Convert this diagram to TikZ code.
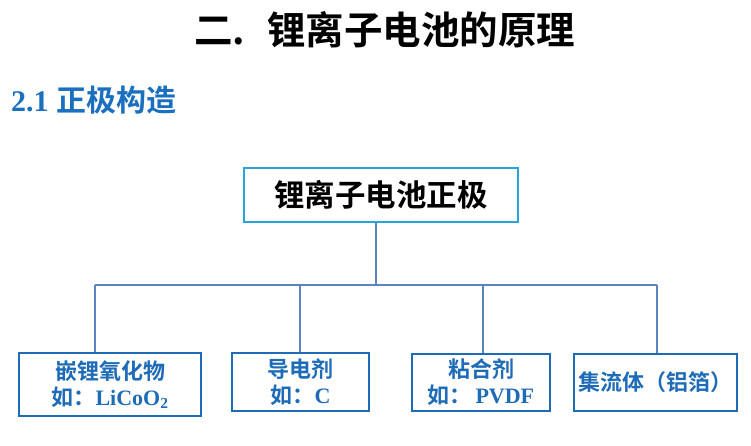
\documentclass[tikz,border=0pt]{standalone}
\usepackage{fontspec}
\setmainfont{Liberation Serif}
\newfontfamily\cjk{Noto Sans CJK SC}[BoldFont={Noto Sans CJK SC Bold}]
\definecolor{titleblue}{HTML}{1A6FBF}
\definecolor{boxblue}{HTML}{1E6CB8}
\definecolor{topborder}{HTML}{2AA3DC}
\definecolor{linkblue}{HTML}{5B84C0}
\tikzset{
  topbox/.style={draw=topborder, line width=2.6pt, fill=white, minimum width=274pt, minimum height=54pt, inner sep=0pt, font=\cjk\bfseries\fontsize{30.5}{33}\selectfont},
  leafbox/.style={draw=boxblue, line width=2pt, fill=white, inner sep=0pt, align=center, text=boxblue, font=\cjk\bfseries\fontsize{22}{26}\selectfont},
  link/.style={draw=linkblue, line width=1.4pt}
}
\begin{document}
\begin{tikzpicture}[x=1pt,y=-1pt]
\useasboundingbox (0,0) rectangle (751,446);
\node[font=\cjk\bfseries\fontsize{38.5}{40}\selectfont, anchor=center] (title) at (385,30) {二.\hspace{22pt}锂离子电池的原理};
\node[font=\bfseries\fontsize{30}{33}\selectfont, text=titleblue, anchor=west, inner sep=0pt] (sub) at (11,100) {2.1 {\cjk 正极构造}};
\node[topbox] (top) at (381,195) {锂离子电池正极};
\node[leafbox, minimum width=182pt, minimum height=63pt] (b1) at (110,384.5) {嵌锂氧化物\\如：{\rmfamily LiCoO\textsubscript{2}}};
\node[leafbox, minimum width=137pt, minimum height=58pt] (b2) at (300.5,382) {导电剂\\如：{\rmfamily C}};
\node[leafbox, minimum width=138pt, minimum height=57pt] (b3) at (481,382.5) {粘合剂\\如：\,{\rmfamily PVDF}};
\node[leafbox, minimum width=163pt, minimum height=57pt] (b4) at (655.5,382.5) {集流体（铝箔）};
\coordinate (hub) at (376,285);
\coordinate (j1) at (95,285);
\coordinate (j2) at (300,285);
\coordinate (j3) at (483,285);
\coordinate (j4) at (657,285);
\draw[link] (top.south -| hub) -- (hub);
\draw[link] (j1) -- (j4);
\draw[link] (j1) -- (b1.north -| j1);
\draw[link] (j2) -- (b2.north -| j2);
\draw[link] (j3) -- (b3.north -| j3);
\draw[link] (j4) -- (b4.north -| j4);
\end{tikzpicture}
\end{document}
